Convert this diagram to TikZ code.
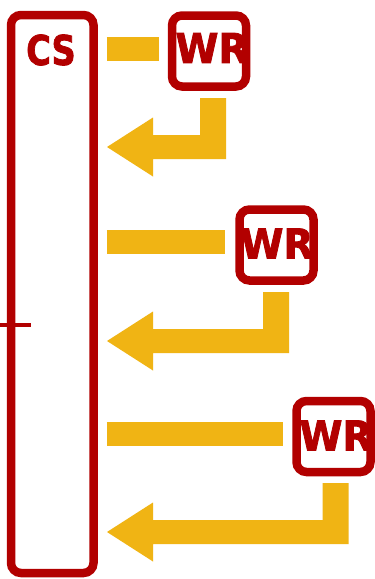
\documentclass[tikz,border=0pt]{standalone}
\usepackage{fontspec}
\usetikzlibrary{calc}
\newfontfamily\lblfont{DejaVu Sans}[BoldFeatures={FakeBold=2}]
\definecolor{boxred}{RGB}{178,0,0}
\definecolor{flowyellow}{RGB}{240,180,20}
\tikzset{
  redbox/.style={draw=boxred, line width=8.5pt, rounded corners=10pt, inner sep=0pt},
  wrbox/.style={redbox, minimum width=74pt, minimum height=71pt},
  lbl/.style={text=boxred, font={\lblfont\bfseries\fontsize{41}{41}\selectfont}, inner sep=0pt},
  bar/.style={draw=flowyellow, line width=24pt},
  fatarrow/.style={fill=flowyellow},
  tickline/.style={draw=boxred, line width=4pt}
}
\newcommand\fatret[3]{%
  \fill[fatarrow] (#1+26,#2) -- (#1+26,#3+12) -- (153,#3+12) -- (153,#3+29.5) -- (107,#3)
    -- (153,#3-29.5) -- (153,#3-12) -- (#1,#3-12) -- (#1,#2) -- cycle;}
\begin{document}
\begin{tikzpicture}[x=1pt,y=-1pt]
\useasboundingbox (0,0) rectangle (375,579);
\fill[white] (0,0) rectangle (375,579);
% boxes
\node[redbox, minimum width=82.5pt, minimum height=558pt] (cs) at (52.25,294) {};
\node[lbl] (cslabel) at (51,50) {\scalebox{0.82}[1]{CS}};
\node[wrbox] (wr1) at (209,51) {};
\node[lbl] (wr1label) at (212,48) {\scalebox{0.95}[1]{WR}};
\node[wrbox] (wr2) at (276.5,245) {};
\node[lbl] (wr2label) at (277,243.5) {\scalebox{0.95}[1]{WR}};
\node[wrbox] (wr3) at (333.5,436.5) {};
\node[lbl] (wr3label) at (336,435.5) {\scalebox{0.95}[1]{WR}};
% request bars
\draw[bar] ($(cs.east |- wr1.west)+(9,-2)$) -- ($(wr1.west)+(-9,-2)$);
\draw[bar] ($(cs.east |- wr2.west)+(9,-3)$) -- ($(wr2.west)+(-10,-3)$);
\draw[bar] ($(cs.east |- wr3.west)+(9,-2.5)$) -- ($(wr3.west)+(-9,-2.5)$);
% return arrows
\fatret{200}{98}{147}
\fatret{263}{292}{341}
\fatret{322.5}{483}{532}
% tick
\coordinate (tickstart) at (0,325);
\coordinate (tickend) at (31,325);
\draw[tickline] (tickstart) -- (tickend);
\end{tikzpicture}
\end{document}
